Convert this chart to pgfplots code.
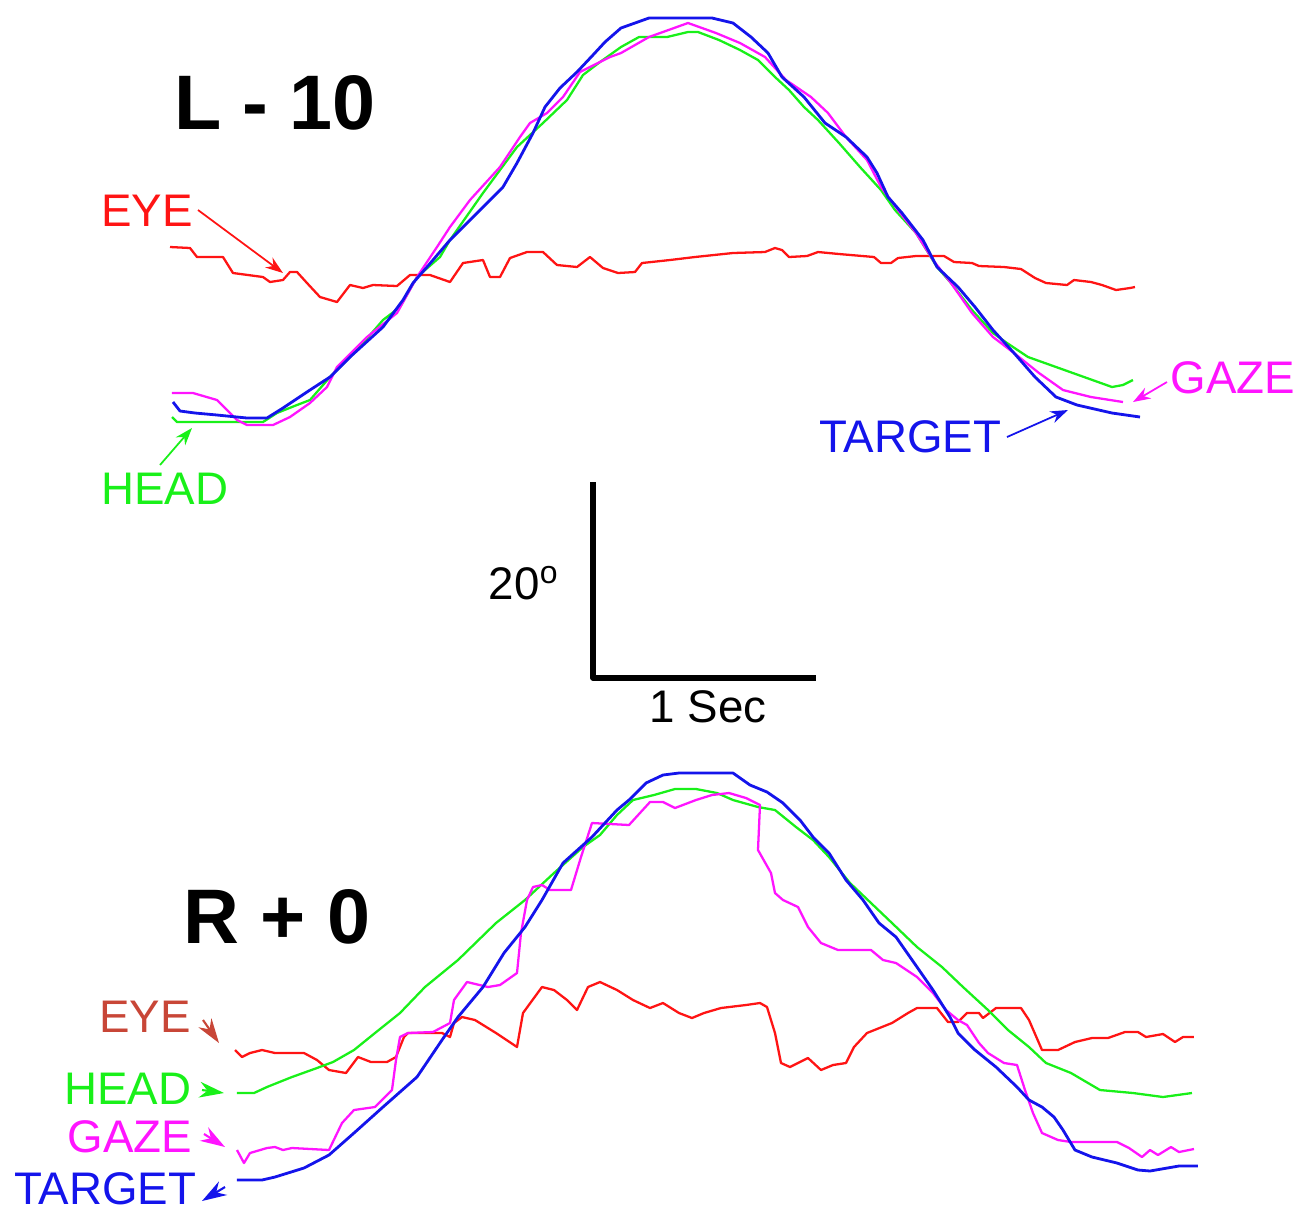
\documentclass[border=0pt]{standalone}
\usepackage{fontspec}
\setmainfont{Liberation Sans}
\usepackage{pgfplots}
\pgfplotsset{compat=1.18}
\usetikzlibrary{arrows.meta}

\definecolor{tred}{RGB}{255,20,20}
\definecolor{tgreen}{RGB}{25,240,25}
\definecolor{tmag}{RGB}{255,20,255}
\definecolor{tblue}{RGB}{20,20,235}
\definecolor{brick}{RGB}{200,70,55}

\newcommand{\lab}{\fontsize{13}{15}\selectfont}
\newcommand{\bigtitle}{\fontsize{22}{24}\selectfont\bfseries}

\begin{document}
\begin{tikzpicture}[every node/.append style={inner sep=0pt}]
\begin{axis}[
    width=12.98cm, height=12.11cm, scale only axis,
    xmin=0, xmax=1298, ymin=0, ymax=1211,
    y dir=reverse,
    hide axis, clip=false,
    every axis plot/.append style={line width=0.65pt, line join=round},
]
\path (axis cs:0,0) rectangle (axis cs:1298,1211);

% ---- top panel: L - 10 ----
% eye
\addplot[tred] coordinates {
(170,247)(190,248)(197,257)(223,257)(233,273)(263,277)(270,282)(283,280)(290,272)(297,272)
(307,283)(320,297)(337,302)(350,285)(363,288)(373,285)(397,286)(410,275)(430,275)(450,282)
(463,263)(483,260)(490,277)(500,277)(510,258)(527,252)(543,252)(557,265)(577,267)(590,257)
(603,268)(618,273)(635,272)(642,263)(670,260)(695,257)(733,253)(765,252)(775,248)(782,250)
(789,257)(807,256)(818,252)(839,254)(874,257)(881,263)(891,263)(898,258)(916,256)(944,256)
(954,262)(972,263)(979,266)(1004,267)(1021,269)(1035,278)(1046,283)(1067,285)(1074,280)
(1091,282)(1102,285)(1116,290)(1130,288)(1135,287)};
% head
\addplot[tgreen] coordinates {
(172,417)(177,422)(263,422)(277,413)(297,405)(310,400)(330,377)(357,350)(383,320)(400,307)
(417,277)(440,257)(450,240)(483,193)(517,147)(543,123)(567,100)(583,75)(600,62)(621,47)
(639,37)(667,37)(688,32)(698,32)(719,40)(740,50)(758,60)(775,77)(789,90)(804,107)(818,120)
(839,143)(860,167)(881,190)(895,210)(916,233)(937,267)(951,283)(972,310)(993,333)(1007,343)
(1028,357)(1056,367)(1084,377)(1112,387)(1123,385)(1133,380)};
% gaze
\addplot[tmag] coordinates {
(172,393)(193,393)(217,400)(237,420)(247,425)(273,425)(290,417)(310,403)(327,387)(337,367)
(367,337)(397,313)(417,277)(437,247)(450,227)(470,200)(500,167)(520,137)(530,123)(547,113)
(563,97)(580,72)(610,57)(621,53)(649,37)(688,23)(716,33)(740,43)(765,57)(786,80)(811,97)
(828,113)(846,137)(867,160)(881,187)(898,210)(916,233)(933,260)(951,283)(972,313)(993,337)
(1014,353)(1039,373)(1063,390)(1091,397)(1123,402)};
% target
\addplot[tblue, line width=0.8pt] coordinates {
(173,402)(180,411)(195,413)(217,415)(247,418)(267,418)(283,408)(310,390)(330,377)(350,357)
(383,327)(403,300)(413,283)(427,267)(450,240)(477,213)(503,187)(517,163)(533,133)(545,107)
(560,88)(577,72)(593,55)(605,42)(621,28)(649,18)(712,18)(733,23)(751,37)(768,53)(782,77)
(804,97)(825,123)(846,137)(867,157)(877,173)(888,197)(902,213)(923,240)(937,267)(958,287)
(975,307)(993,330)(1014,353)(1035,377)(1056,397)(1077,405)(1112,413)(1140,417)};

\node[font=\bigtitle] at (axis cs:275,103) {L - 10};
\node[font=\lab, text=tred] at (axis cs:147,211) {EYE};
\node[font=\lab, text=tgreen] at (axis cs:165,489) {HEAD};
\node[font=\lab, text=tmag] at (axis cs:1233,378) {GAZE};
\node[font=\lab, text=tblue] at (axis cs:910,437) {TARGET};
\draw[tred, line width=0.5pt, -{Stealth[length=5pt,width=3.5pt]}] (axis cs:198,210) -- (axis cs:283,273);
\draw[tgreen, line width=0.5pt, -{Stealth[length=5pt,width=3.5pt]}] (axis cs:160,465) -- (axis cs:192,428);
\draw[tmag, line width=0.5pt, -{Stealth[length=5pt,width=3.5pt]}] (axis cs:1167,382) -- (axis cs:1133,402);
\draw[tblue, line width=0.5pt, -{Stealth[length=5pt,width=3.5pt]}] (axis cs:1007,437) -- (axis cs:1068,410);

% ---- scale bar ----
\addplot[black, line width=1.5pt, line cap=rect] coordinates {(593,485)(593,678)(813,678)};
\node[font=\lab, anchor=east] at (axis cs:560,583) {20\textsuperscript{o}};
\node[font=\lab] at (axis cs:708,707) {1 Sec};

% ---- bottom panel: R + 0 ----
% eye
\addplot[tred] coordinates {
(235,1050)(242,1057)(250,1053)(262,1050)(275,1053)(304,1053)(317,1060)(329,1070)(346,1073)
(358,1057)(371,1062)(387,1062)(396,1057)(404,1037)(408,1033)(442,1033)(450,1037)(454,1023)
(462,1017)(475,1020)(496,1033)(517,1047)(523,1013)(542,987)(554,990)(567,1000)(577,1010)
(588,987)(600,982)(617,990)(633,1000)(650,1008)(663,1003)(679,1013)(692,1018)(704,1013)
(721,1008)(746,1005)(760,1003)(767,1007)(775,1033)(781,1063)(790,1067)(808,1058)(821,1070)
(833,1065)(846,1063)(854,1047)(867,1033)(892,1023)(908,1013)(917,1008)(937,1008)(948,1022)
(958,1022)(967,1013)(979,1013)(983,1018)(996,1008)(1021,1008)(1029,1020)(1042,1050)
(1058,1050)(1075,1042)(1092,1038)(1108,1038)(1125,1032)(1138,1032)(1146,1037)(1163,1034)
(1175,1042)(1183,1037)(1194,1037)};
% head
\addplot[tgreen] coordinates {
(237,1093)(254,1093)(267,1087)(292,1077)(317,1068)(333,1062)(354,1050)(375,1033)(400,1013)
(425,987)(458,960)(496,923)(525,900)(554,873)(583,847)(600,835)(617,815)(633,800)(654,795)
(675,789)(696,789)(717,793)(733,800)(758,807)(775,810)(796,827)(813,840)(829,857)(850,883)
(871,903)(892,923)(917,947)(942,967)(963,987)(988,1010)(1008,1030)(1029,1047)(1046,1063)
(1071,1073)(1100,1090)(1133,1093)(1163,1097)(1192,1093)};
% gaze
\addplot[tmag] coordinates {
(237,1150)(244,1163)(250,1153)(267,1148)(275,1147)(283,1150)(292,1148)(329,1150)(342,1123)
(354,1110)(375,1107)(392,1090)(396,1060)(400,1037)(408,1033)(433,1032)(450,1023)(454,1000)
(467,982)(488,987)(500,985)(517,973)(521,933)(527,900)(533,887)(542,885)(550,890)(571,890)
(581,857)(592,823)(629,825)(650,802)(663,802)(675,808)(696,800)(712,795)(729,793)(746,798)
(760,805)(758,850)(771,873)(775,893)(783,900)(798,907)(808,927)(821,943)(838,950)(871,950)
(883,960)(896,963)(917,977)(933,993)(946,1010)(958,1020)(967,1025)(979,1043)(988,1053)
(1004,1063)(1017,1065)(1025,1090)(1033,1113)(1042,1133)(1058,1140)(1071,1142)(1117,1142)
(1129,1148)(1142,1157)(1150,1150)(1158,1155)(1171,1147)(1179,1152)(1194,1149)};
% target
\addplot[tblue, line width=0.8pt] coordinates {
(237,1180)(262,1180)(275,1177)(304,1168)(329,1155)(354,1133)(383,1107)(417,1077)(442,1040)
(458,1017)(483,987)(504,953)(525,927)(542,900)(563,863)(592,837)(617,810)(629,800)(646,783)
(663,775)(679,773)(733,773)(750,785)(767,792)(783,803)(800,820)(813,837)(829,853)(846,880)
(863,900)(879,923)(896,937)(917,967)(933,990)(950,1017)(958,1033)(975,1050)(996,1067)
(1017,1087)(1029,1100)(1042,1107)(1054,1117)(1063,1130)(1075,1150)(1092,1157)(1117,1163)
(1138,1170)(1150,1171)(1179,1166)(1198,1166)};

\node[font=\bigtitle] at (axis cs:277,917) {R + 0};
\node[font=\lab, text=brick] at (axis cs:145,1017) {EYE};
\node[font=\lab, text=tgreen] at (axis cs:128,1089) {HEAD};
\node[font=\lab, text=tmag] at (axis cs:130,1137) {GAZE};
\node[font=\lab, text=tblue] at (axis cs:105,1189) {TARGET};
\draw[brick, line width=0.6pt, -{Stealth[length=7pt,width=4.5pt]}] (axis cs:203,1020) -- (axis cs:219,1043);
\draw[tgreen, line width=0.6pt, -{Stealth[length=7pt,width=4.5pt]}] (axis cs:202,1090) -- (axis cs:224,1093);
\draw[tmag, line width=0.6pt, -{Stealth[length=7pt,width=4.5pt]}] (axis cs:204,1134) -- (axis cs:225,1147);
\draw[tblue, line width=0.6pt, -{Stealth[length=7pt,width=4.5pt]}] (axis cs:225,1187) -- (axis cs:202,1201);
\end{axis}
\end{tikzpicture}
\end{document}
